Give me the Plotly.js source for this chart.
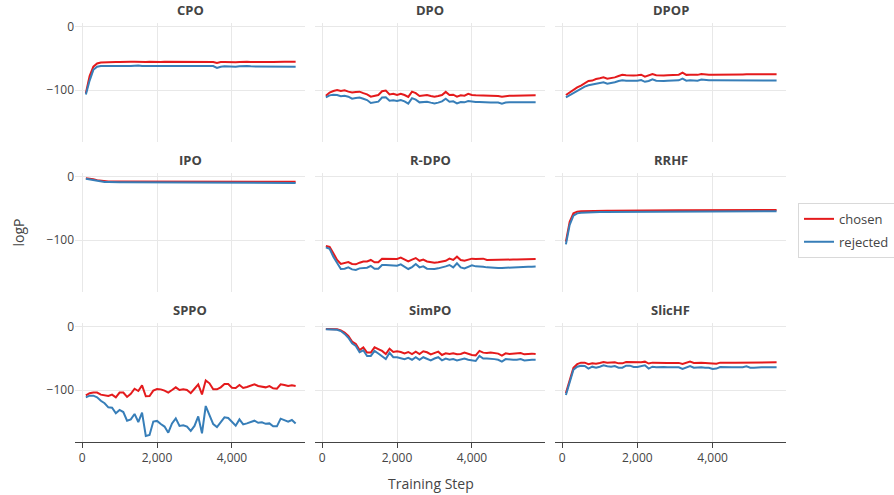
<!DOCTYPE html>
<html>
<head>
<meta charset="utf-8">
<script src="https://cdn.plot.ly/plotly-3.0.1.min.js"></script>
<style>html,body{margin:0;padding:0;background:#fff;}#chart{width:894px;height:495px;}</style>
</head>
<body>
<div id="chart"></div>
<script>
var steps = [100,200,300,400,500,600,700,800,900,1000,
  1100,1200,1300,1400,1500,1600,1700,1800,1900,2000,
  2100,2200,2300,2400,2500,2600,2700,2800,2900,3000,
  3100,3200,3300,3400,3500,3600,3700,3800,3900,4000,
  4100,4200,4300,4400,4500,4600,4700,4800,4900,5000,
  5100,5200,5300,5400,5500,5600,5700];

var methods = ["CPO","DPO","DPOP","IPO","R-DPO","RRHF","SPPO","SimPO","SlicHF"];
var seriesNames = ["chosen","rejected"];

var cpoChosen = [-105,-78,-63,-58,-56.5,-56,-55.5,-56,-55.5,-55.5,
  -55,-55.5,-55,-55,-55.5,-55,-55.5,-55,-55.5,-55.5,
  -55.5,-55,-55,-55.5,-55,-55.5,-55.5,-55,-55,-55.5,
  -55,-55.5,-55.5,-55,-55.5,-57,-55.5,-55.5,-56,-55.5,
  -56,-55.5,-55,-55,-55.5,-55,-55.5,-55.5,-55,-55.5,
  -55.5,-55,-55,-55,-55,-55,-55];
var cpoRejected = [-107,-85,-68,-63,-62,-62,-62.5,-62.5,-62,-63,
  -62.5,-62,-62,-61.5,-61,-62,-62,-62.5,-62,-62.5,
  -62.5,-62,-62,-61.5,-62,-62.5,-62,-62,-62.5,-62,
  -62,-62.5,-62.5,-62,-62,-65,-63,-62.5,-63,-63,
  -63,-62.5,-62,-62,-62.5,-62.5,-63,-63,-62.5,-62.5,
  -63,-62.5,-63,-62.5,-63,-63,-63];

var dpoChosen = [-109,-104,-101.6,-100,-101.6,-100.5,-102.6,-104,-103,-102.6,
  -105,-107,-110.6,-109,-108,-102,-101,-107,-106,-108,
  -106,-108,-111,-102.6,-105,-109.5,-108.5,-108,-109.5,-110.6,
  -109.5,-108,-103,-108,-107.4,-110.6,-108.5,-109,-106,-108,
  -108.5,-108.5,-109,-108.5,-109,-109,-109.5,-110.6,-109.5,-109,
  -109,-109,-108.5,-108.5,-108.5,-108.5,-108.5];
var dpoRejected = [-111.6,-108.5,-107.4,-108,-110,-109,-110.6,-113.8,-112.7,-112,
  -113.8,-115.9,-120.6,-119,-118.5,-112,-111.6,-117,-116.4,-117.5,
  -115.9,-118,-121.7,-113,-115.3,-119.6,-119,-118.5,-120,-121.2,
  -120,-118,-113.8,-118.5,-118,-121.2,-119,-119.6,-117.5,-118.5,
  -119,-119,-119.6,-119.6,-120,-120,-120,-121.7,-120,-119.6,
  -119.6,-119.6,-119.6,-119.6,-119.6,-119.6,-119.6];

var dpopChosen = [-108,-103.7,-99,-95.8,-93,-89.4,-85.7,-85,-82.5,-81.5,
  -80,-82,-81.5,-80,-77.8,-76,-76.5,-77,-77,-76.5,
  -75.7,-78.8,-77,-74.6,-76.5,-77,-77,-76.5,-76.5,-76.5,
  -75.7,-72.5,-76,-75.7,-75.7,-76,-74.6,-75.7,-75.7,-75.7,
  -75.5,-75.5,-75.7,-75.5,-75.3,-75.3,-75.5,-75.3,-75.2,-75.2,
  -75.3,-75.3,-75.2,-75.2,-75.2,-75,-75];
var dpopRejected = [-111.6,-108,-104.5,-101,-97.9,-94.7,-92.6,-91.5,-89.4,-88.4,
  -87.8,-90,-89.4,-87.8,-85.7,-84.7,-85.2,-85.2,-85.7,-85.2,
  -84.1,-87,-85.7,-83,-85.2,-85.7,-85.7,-85.2,-85.2,-85.2,
  -84.7,-82,-85.2,-84.7,-84.7,-85.2,-83.5,-84.7,-84.7,-84.7,
  -84.7,-84.7,-85,-84.7,-84.7,-84.7,-84.7,-85,-84.9,-84.9,
  -85,-85,-84.9,-84.9,-85,-85,-85];

var ipoChosen = [-2,-2.5,-3.5,-5,-6,-6.5,-7,-7,-7,-7.5,
  -7.5,-7.5,-7,-7.5,-7.5,-8,-8,-7.5,-7.5,-8,
  -7.5,-8,-8,-7,-7.5,-7.5,-7.5,-7.5,-7,-7.5,
  -7.5,-7.5,-7,-7.5,-8,-7.5,-7.5,-7.5,-7.5,-7.5,
  -7.5,-7.5,-7.5,-7.5,-7.5,-7.5,-7.5,-7.5,-7.5,-7.5,
  -7.5,-7.5,-7.5,-7.5,-7.5,-7.5,-7.5];
var ipoRejected = [-3,-4,-5,-6.5,-7.5,-8,-8,-8.5,-8.5,-8.5,
  -8.5,-8.5,-8.5,-8.5,-8.5,-8.5,-8.5,-8.5,-8.5,-9,
  -9,-9,-9.5,-8.5,-8.5,-9,-9,-9,-8.5,-8.5,
  -8.5,-9,-8.5,-8.5,-9.5,-9,-9,-9,-9,-9,
  -9,-9,-9,-9,-9,-9,-9,-9,-9,-9,
  -9,-9,-9,-9,-9,-9,-9.5];

var rdpoChosen = [-109.5,-111,-121,-131.7,-138,-137,-135,-138,-138.6,-136,
  -134,-134,-131.7,-135.4,-135.4,-129.6,-129.6,-130,-129.6,-130,
  -128,-131,-134,-131,-128.6,-133,-131,-134,-135.4,-136,
  -135.4,-134.5,-133,-129.6,-131.7,-126.5,-131.7,-133,-131.7,-129.6,
  -130,-130,-129.6,-131.7,-131.7,-132,-132,-131.7,-131.5,-131.2,
  -131,-130.8,-130.6,-130.4,-130.2,-130,-130];
var rdpoRejected = [-111.6,-114,-126.5,-137,-146,-145.5,-143.4,-146.6,-147.6,-145,
  -144,-144,-141,-145.5,-145.5,-139.7,-139.7,-140.2,-140.2,-140.7,
  -138.6,-142.3,-146,-142.9,-138,-143.4,-141.8,-145.5,-146,-146,
  -145,-144,-141.8,-139.7,-143.4,-137,-143.4,-145,-142.9,-140.2,
  -141.8,-141.8,-142.3,-143.4,-144,-144,-144.4,-144.4,-144,-143.4,
  -143.4,-143,-143,-142.9,-142.5,-142.3,-142];

var rrhfChosen = [-102.6,-71,-57.7,-55,-54.5,-54.2,-54,-53.8,-53.7,-53.6,
  -53.5,-53.4,-53.4,-53.3,-53.3,-53.2,-53.2,-53.1,-53.1,-53.1,
  -53,-53,-53,-53,-52.9,-52.9,-52.9,-52.9,-52.8,-52.8,
  -52.8,-52.8,-52.8,-52.7,-52.7,-52.7,-52.7,-52.7,-52.6,-52.6,
  -52.6,-52.6,-52.6,-52.6,-52.5,-52.5,-52.5,-52.5,-52.5,-52.5,
  -52.5,-52.4,-52.4,-52.4,-52.4,-52.4,-52.4];
var rrhfRejected = [-107,-76,-61.4,-57.7,-56.6,-56.2,-56,-55.8,-55.7,-55.6,
  -55.5,-55.5,-55.4,-55.4,-55.3,-55.3,-55.2,-55.2,-55.2,-55.1,
  -55.1,-55.1,-55,-55,-55,-55,-55,-54.9,-54.9,-54.9,
  -54.9,-54.9,-54.8,-54.8,-54.8,-54.8,-54.8,-54.7,-54.7,-54.7,
  -54.7,-54.7,-54.7,-54.6,-54.6,-54.6,-54.6,-54.6,-54.6,-54.6,
  -54.5,-54.5,-54.5,-54.5,-54.5,-54.5,-54.5];

var sppoChosen = [-108.5,-105,-104,-104,-107.4,-108,-109.5,-107.4,-111.6,-104,
  -104,-111,-106,-98,-101.6,-92.6,-110,-109.5,-101,-98.4,
  -99,-101,-104,-100,-95.8,-100,-99,-100,-105,-98,
  -91,-107,-84.7,-89.4,-99,-99,-95.8,-90.5,-90.5,-96.3,
  -96.8,-92,-96.8,-95.3,-93.7,-91,-93.7,-94.7,-95.8,-93.7,
  -97.4,-97.9,-91,-92,-93.7,-92.6,-93.7];
var sppoRejected = [-111.6,-109,-109,-111.6,-117,-121,-127.5,-128,-137,-131.7,
  -135,-148.7,-146.6,-138,-150.8,-136,-173,-171.4,-150,-149,
  -154,-158,-167.7,-153,-145,-157,-156,-158,-165,-157,
  -142,-168.8,-125.4,-141,-154,-158.7,-151,-143.4,-144.4,-150,
  -156.6,-146.6,-154.5,-153,-151.3,-148.7,-152,-151.3,-153.7,-153,
  -157.7,-157.7,-145.5,-147.6,-150.3,-147.6,-153];

var simpoChosen = [-3.2,-3.2,-3.2,-3.7,-5.3,-9,-14.3,-23.3,-27,-36.5,
  -32.3,-40.7,-40.7,-32.3,-35,-38,-42.9,-34.4,-39.7,-38.6,
  -39.7,-41.8,-39.7,-42.9,-39.2,-42.9,-38.6,-40.2,-43.4,-41.8,
  -39.2,-44.4,-41.8,-42.9,-41.8,-43.4,-42.9,-40.7,-42.9,-44.4,
  -45,-38,-40.7,-41.3,-40.7,-41.8,-42.3,-45.5,-41.8,-42.9,
  -42.3,-42.3,-41.3,-43.4,-42.3,-42.3,-42.9];
var simpoRejected = [-3.5,-3.5,-4,-4.5,-6.5,-11,-17,-26,-30,-40,
  -37,-46,-46,-38,-42,-47,-51,-41,-48,-48,
  -49,-51,-49,-52,-48,-52,-48,-50,-53,-50,
  -48,-53,-50,-52,-51,-53,-52,-50,-52,-53,
  -54,-46,-50,-50,-50,-51,-52,-55,-51,-52,
  -52,-52,-51,-53,-52,-52,-52];

var slichfChosen = [-105,-84,-64.6,-59,-56.6,-56.6,-59,-57.7,-58.2,-57.1,
  -55.5,-56.6,-56.6,-56,-57.7,-57.7,-55.5,-55.5,-56.6,-56.6,
  -56,-55,-58,-56.6,-57,-56.6,-56.6,-57,-57,-57,
  -57,-58.7,-56.6,-55,-57.1,-56.6,-56.6,-57,-57.1,-58.2,
  -58.2,-56.6,-57,-56.6,-56.6,-56.6,-56.6,-56.6,-55.5,-56.6,
  -56.6,-56.6,-56.6,-56,-56,-56,-56];
var slichfRejected = [-108,-86.8,-68,-63,-61.4,-61.9,-66,-63,-64.6,-63,
  -60.8,-62.4,-63,-61.9,-64.6,-64.6,-61.4,-61.4,-63.5,-63.5,
  -62.4,-60.8,-66,-63,-64,-63.5,-63.5,-64,-64,-64,
  -64,-66.6,-64,-61.9,-64.6,-64,-64,-64.6,-64.6,-66.6,
  -66,-63.5,-64,-64,-64,-64,-64,-64,-62.4,-64.6,
  -64.6,-64,-64,-64,-64,-64,-64];

var xTickVals = [0, 2000, 4000];
var yTickVals = [0, -100];

var chosenSeries = [cpoChosen, dpoChosen, dpopChosen, ipoChosen, rdpoChosen, rrhfChosen, sppoChosen, simpoChosen, slichfChosen];
var rejectedSeries = [cpoRejected, dpoRejected, dpopRejected, ipoRejected, rdpoRejected, rrhfRejected, sppoRejected, simpoRejected, slichfRejected];

var colors = {chosen: "#e41a1c", rejected: "#377eb8"};
var font = "'Open Sans', 'Noto Sans', sans-serif";

var traces = [];
var layout = {
  width: 894, height: 495,
  margin: {l: 75, r: 108, t: 23, b: 53, autoexpand: false},
  paper_bgcolor: "#fff", plot_bgcolor: "#fff",
  font: {family: font, color: "#444", size: 12},
  showlegend: true,
  legend: {x: 1.0169, xanchor: "left", y: 0.505, yanchor: "middle",
    bordercolor: "#d9d9d9", borderwidth: 1, bgcolor: "#fff",
    tracegroupgap: 3,
    font: {size: 13, color: "#444"}},
  annotations: []
};

var colDom = [[0, 230/711], [240/711, 470/711], [480/711, 1]];
var rowDom = [[300/419, 1], [150/419, 269/419], [0, 119/419]];

for (var i = 0; i < methods.length; i++) {
  var r = Math.floor(i / 3), c = i % 3;
  var sfx = i === 0 ? "" : String(i + 1);
  var series = [chosenSeries[i], rejectedSeries[i]];
  for (var s = 0; s < 2; s++) {
    traces.push({
      type: "scatter", mode: "lines",
      x: steps, y: series[s],
      name: seriesNames[s], legendgroup: seriesNames[s],
      showlegend: i === 0,
      line: {color: colors[seriesNames[s]], width: 2},
      xaxis: "x" + sfx, yaxis: "y" + sfx
    });
  }
  var bottom = r === 2;
  layout["xaxis" + sfx] = {
    domain: colDom[c], anchor: "y" + sfx,
    range: [-190, 5950],
    tickvals: xTickVals, tickformat: ",d",
    showticklabels: bottom,
    showline: bottom, linecolor: "#444", linewidth: 1,
    ticks: bottom ? "outside" : "", ticklen: 5, tickcolor: "#444",
    showgrid: true, gridcolor: "#e8e8e8", zeroline: false,
    automargin: false,
    tickfont: {size: 12, color: "#444"}
  };
  layout["yaxis" + sfx] = {
    domain: rowDom[r], anchor: "x" + sfx,
    range: [-182.5, 6.3],
    tickvals: yTickVals,
    showticklabels: c === 0,
    showline: false, ticks: "",
    showgrid: true, gridcolor: "#e8e8e8", zeroline: false,
    automargin: false,
    tickfont: {size: 12, color: "#444"}
  };
  layout.annotations.push({
    text: "<b>" + methods[i] + "</b>",
    xref: "paper", yref: "paper",
    x: (colDom[c][0] + colDom[c][1]) / 2, y: rowDom[r][1],
    xanchor: "center", yanchor: "bottom", yshift: 2,
    showarrow: false, font: {size: 13, color: "#444", family: font}
  });
}

layout.annotations.push({
  text: "Training Step", xref: "paper", yref: "paper",
  x: 0.5, y: 0, xanchor: "center", yanchor: "top", yshift: -30,
  showarrow: false, font: {size: 14, color: "#444", family: font}
});
layout.annotations.push({
  text: "logP", xref: "paper", yref: "paper",
  x: 0, y: 0.5, xanchor: "center", yanchor: "middle", xshift: -57,
  textangle: -90, showarrow: false, font: {size: 14, color: "#444", family: font}
});

Plotly.newPlot("chart", traces, layout, {displayModeBar: false, staticPlot: true});
</script>
</body>
</html>
